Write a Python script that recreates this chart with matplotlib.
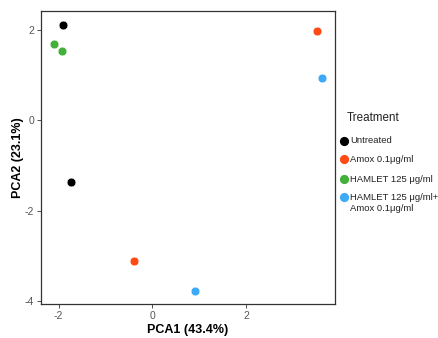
import matplotlib
matplotlib.use("Agg")
import matplotlib.pyplot as plt
from matplotlib.lines import Line2D

plt.rcParams['font.family'] = ['Liberation Sans', 'DejaVu Sans']
plt.rcParams['axes.unicode_minus'] = False

groups = ["Untreated", "Amox 0.1\u03bcg/ml", "HAMLET 125 \u03bcg/ml", "HAMLET 125 \u03bcg/ml+\nAmox 0.1\u03bcg/ml"]
colors = ["#000000", "#FF4A14", "#43B03A", "#3DA9F7"]
pc1 = [[-1.915, -1.73], [3.507, -0.384], [-2.093, -1.93], [3.614, 0.91]]
pc2 = [[2.117, -1.358], [1.99, -3.128], [1.683, 1.535], [0.936, -3.79]]
xticks = [-2, 0, 2]
yticks = [-4, -2, 0, 2]

W, H = 439, 338
fig = plt.figure(figsize=(W / 100, H / 100), dpi=100)
ax = fig.add_axes([0.0934, 0.1006, 0.6696, 0.8664])
for g, c, xs, ys in zip(groups, colors, pc1, pc2):
    ax.scatter(xs, ys, s=40, color=c, edgecolors='white', linewidths=0.4, zorder=3)

ax.set_xlim(-2.377, 3.89)
ax.set_ylim(-4.07, 2.42)
ax.set_xticks(xticks)
ax.set_yticks(yticks)
ax.tick_params(labelsize=7.5, colors='#333333', labelcolor='#555555', length=3, width=0.6, pad=2)
for sp in ax.spines.values():
    sp.set_color('#333333')
    sp.set_linewidth(0.9)
ax.set_xlabel("PCA1 (43.4%)", fontsize=9, fontweight='bold', labelpad=2)
ax.set_ylabel("PCA2 (23.1%)", fontsize=9, fontweight='bold', labelpad=0.5)

# legend (manual, so the marker sits beside the first line of each label)
fig.text(347 / W, 1 - 118 / H, "Treatment", fontsize=8.4, va='center', ha='left', color='#222222')
entry_y = [140.7, 159.3, 179.0, 197.3]
for g, c, yy in zip(groups, colors, entry_y):
    fig.add_artist(Line2D([343.5 / W], [1 - yy / H], marker='o', linestyle='', color=c,
                          markersize=5.6, transform=fig.transFigure))
    fig.text(350 / W, 1 - (yy - 4.5) / H, g, fontsize=6.8, va='top', ha='left',
             color='#222222', linespacing=1.25)

fig.savefig("out.png", dpi=100)
